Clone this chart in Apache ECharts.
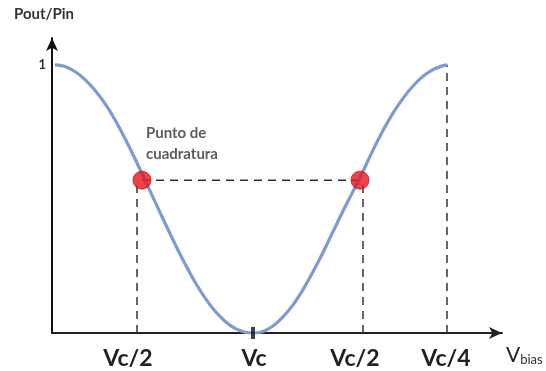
<!DOCTYPE html>
<html>
<head>
<meta charset="utf-8">
<script src="https://cdn.jsdelivr.net/npm/echarts@6/dist/echarts.min.js"></script>
<style>
  html, body { margin: 0; padding: 0; background: #fff; }
  #chart { width: 546px; height: 371px; }
</style>
</head>
<body>
<div id="chart"></div>
<script>
// Transmission curve Pout/Pin versus bias voltage
const biasX = [3, 13, 23, 33, 43, 53, 63, 73, 83, 93, 103, 113, 123, 133, 143, 153, 163, 173, 183, 193, 201,
               211, 221, 231, 241, 251, 261, 271, 281, 291, 301, 311, 321, 331, 341, 351, 361, 371, 381, 391, 395];
const ratioY = [1.0, 0.994, 0.975, 0.945, 0.905, 0.855, 0.795, 0.725, 0.650, 0.570, 0.490, 0.410, 0.332, 0.258, 0.190, 0.131, 0.082, 0.044, 0.017, 0.003, 0,
                0.006, 0.026, 0.060, 0.105, 0.162, 0.228, 0.300, 0.378, 0.455, 0.528, 0.603, 0.682, 0.755, 0.820, 0.875, 0.921, 0.957, 0.982, 0.997, 1.0];

// Quadrature points
const quadX = [90, 308];
const quadY = [0.57, 0.57];
const quadLabel = 'Punto de\ncuadratura';

// Label positions and texts on the bias axis
const labelX = [76, 202, 303, 394];
const tickLabels = ['Vc/2', 'Vc', 'Vc/2', 'Vc/4'];
const vcX = 201;

// Y axis labelled value
const yTicks = [1];

// Dashed guide lines: [x, top value]
const guideVerticals = [[85, 0.57], [311, 0.57], [395, 1.0]];

const font = 'Lato, "Open Sans", sans-serif';
const dashStyle = { color: '#333', width: 1.5, type: [8, 6] };

const series = [];

series.push({
  type: 'line',
  data: biasX.map((x, i) => [x, ratioY[i]]),
  smooth: 0.3,
  symbol: 'none',
  lineStyle: { color: '#7d9bd0', width: 3.2 },
  z: 3
});

series.push({
  type: 'line',
  data: quadX.map((x, i) => [x, quadY[i]]),
  symbol: 'none',
  lineStyle: dashStyle,
  z: 2
});

guideVerticals.forEach(([x, top]) => {
  series.push({
    type: 'line',
    data: [[x, 0], [x, top]],
    symbol: 'none',
    lineStyle: dashStyle,
    z: 2
  });
});

series.push({
  type: 'scatter',
  data: quadX.map((x, i) => ({
    value: [x, quadY[i]],
    label: i === 0 ? {
      show: true,
      formatter: quadLabel,
      position: 'top',
      offset: [4, -1],
      fontFamily: font,
      fontWeight: 'bold',
      fontSize: 15,
      lineHeight: 21,
      color: '#333',
      align: 'left'
    } : { show: false }
  })),
  symbolSize: 18,
  itemStyle: { color: '#e8141c', borderColor: '#d01018', borderWidth: 1 },
  z: 5
});

series.push({
  type: 'scatter',
  data: [[vcX, 0]],
  symbol: 'rect',
  symbolSize: [4, 12],
  itemStyle: { color: '#111' },
  z: 6
});

const chart = echarts.init(document.getElementById('chart'));
chart.setOption({
  animation: false,
  backgroundColor: '#fff',
  grid: { left: 52, right: 44, top: 38, bottom: 38 },
  xAxis: {
    type: 'value',
    min: 0,
    max: 450,
    name: '{v|V}{s|bias}',
    nameLocation: 'end',
    nameGap: 4,
    nameTextStyle: {
      verticalAlign: 'top',
      align: 'left',
      padding: [12, 0, 0, 0],
      rich: {
        v: { fontFamily: font, fontSize: 21, color: '#222', verticalAlign: 'bottom' },
        s: { fontFamily: font, fontSize: 13, color: '#333', verticalAlign: 'bottom' }
      }
    },
    axisLine: {
      show: true,
      symbol: ['none', 'arrow'],
      symbolSize: [9, 13],
      lineStyle: { color: '#222', width: 2 }
    },
    axisTick: { show: false },
    splitLine: { show: false },
    axisLabel: {
      customValues: labelX,
      formatter: v => tickLabels[labelX.indexOf(v)] || '',
      fontFamily: font,
      fontWeight: 'bold',
      fontSize: 23,
      color: '#222',
      margin: 14
    }
  },
  yAxis: {
    type: 'value',
    min: 0,
    max: 1.1,
    name: 'Pout/Pin',
    nameLocation: 'end',
    nameGap: 16,
    nameTextStyle: {
      fontFamily: font,
      fontWeight: 'bold',
      fontSize: 15,
      color: '#333',
      align: 'center',
      padding: [0, 16, 0, 0]
    },
    axisLine: {
      show: true,
      symbol: ['none', 'arrow'],
      symbolSize: [9, 13],
      lineStyle: { color: '#111', width: 2 }
    },
    axisTick: { show: false },
    splitLine: { show: false },
    axisLabel: {
      customValues: yTicks,
      fontFamily: font,
      fontWeight: 'bold',
      fontSize: 13,
      color: '#333',
      margin: 6,
      padding: [5, 0, 0, 0]
    }
  },
  series: series
});
</script>
</body>
</html>
